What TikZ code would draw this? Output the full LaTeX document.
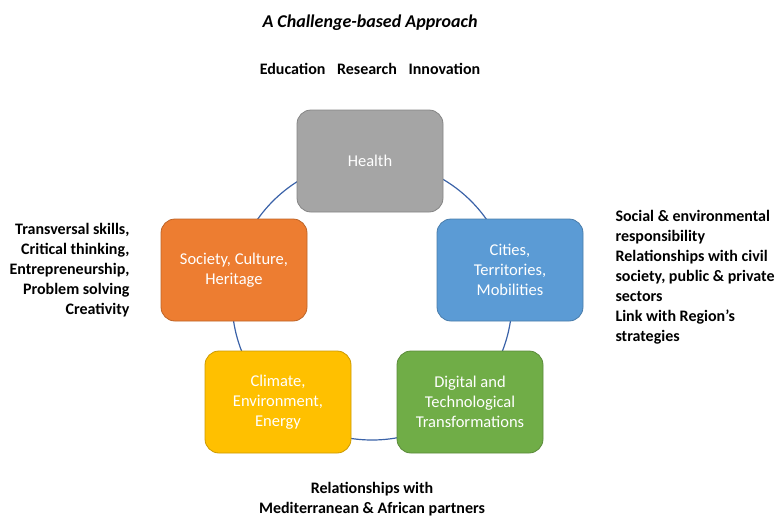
\documentclass[tikz,border=0pt]{standalone}
\usepackage{fontspec}
\setmainfont{Carlito}
\usetikzlibrary{positioning}
\definecolor{hgray}{HTML}{A5A5A5}
\definecolor{horange}{HTML}{ED7D31}
\definecolor{hblue}{HTML}{5B9BD5}
\definecolor{hyellow}{HTML}{FFC000}
\definecolor{hgreen}{HTML}{70AD47}
\definecolor{hring}{HTML}{3A62A8}
\begin{document}
\begin{tikzpicture}[x=1pt,y=-1pt,
    theme/.style={draw=#1!80!black,fill=#1,rounded corners=14pt,minimum width=146pt,minimum height=102pt,
        text=white,align=center,font=\fontsize{16.5}{20}\selectfont,line width=0.8pt},
    side/.style={font=\bfseries\fontsize{16}{20}\selectfont}]
    \useasboundingbox (0,0) rectangle (779,517);
    \draw[hring,line width=1.2pt] (372,300) circle (140);
    \node[theme=hgray] (health) at (370,161) {Health};
    \node[theme=horange] (society) at (234,270) {Society, Culture,\\Heritage};
    \node[theme=hblue] (cities) at (510,270) {Cities,\\Territories,\\Mobilities};
    \node[theme=hyellow] (climate) at (278,402) {Climate,\\Environment,\\Energy};
    \node[theme=hgreen] (digital) at (470,402) {Digital and\\Technological\\Transformations};
    \node[font=\bfseries\itshape\fontsize{18}{20}\selectfont] (title) at (370,23) {A Challenge-based Approach};
    \node[side] (pillars) at (370,69) {Education\enspace\ Research\enspace\ Innovation};
    \node[side,align=right,anchor=east] (skills) at (133,270) {Transversal skills,\\Critical thinking,\\Entrepreneurship,\\Problem solving\\Creativity};
    \node[side,align=left,anchor=west] (respons) at (612,277) {Social \& environmental\\responsibility\\Relationships with civil\\society, public \& private\\sectors\\Link with Region’s\\strategies};
    \node[side,align=center,anchor=south,inner sep=1pt] (partners) at (372,517) {Relationships with\\Mediterranean \& African partners};
\end{tikzpicture}
\end{document}
